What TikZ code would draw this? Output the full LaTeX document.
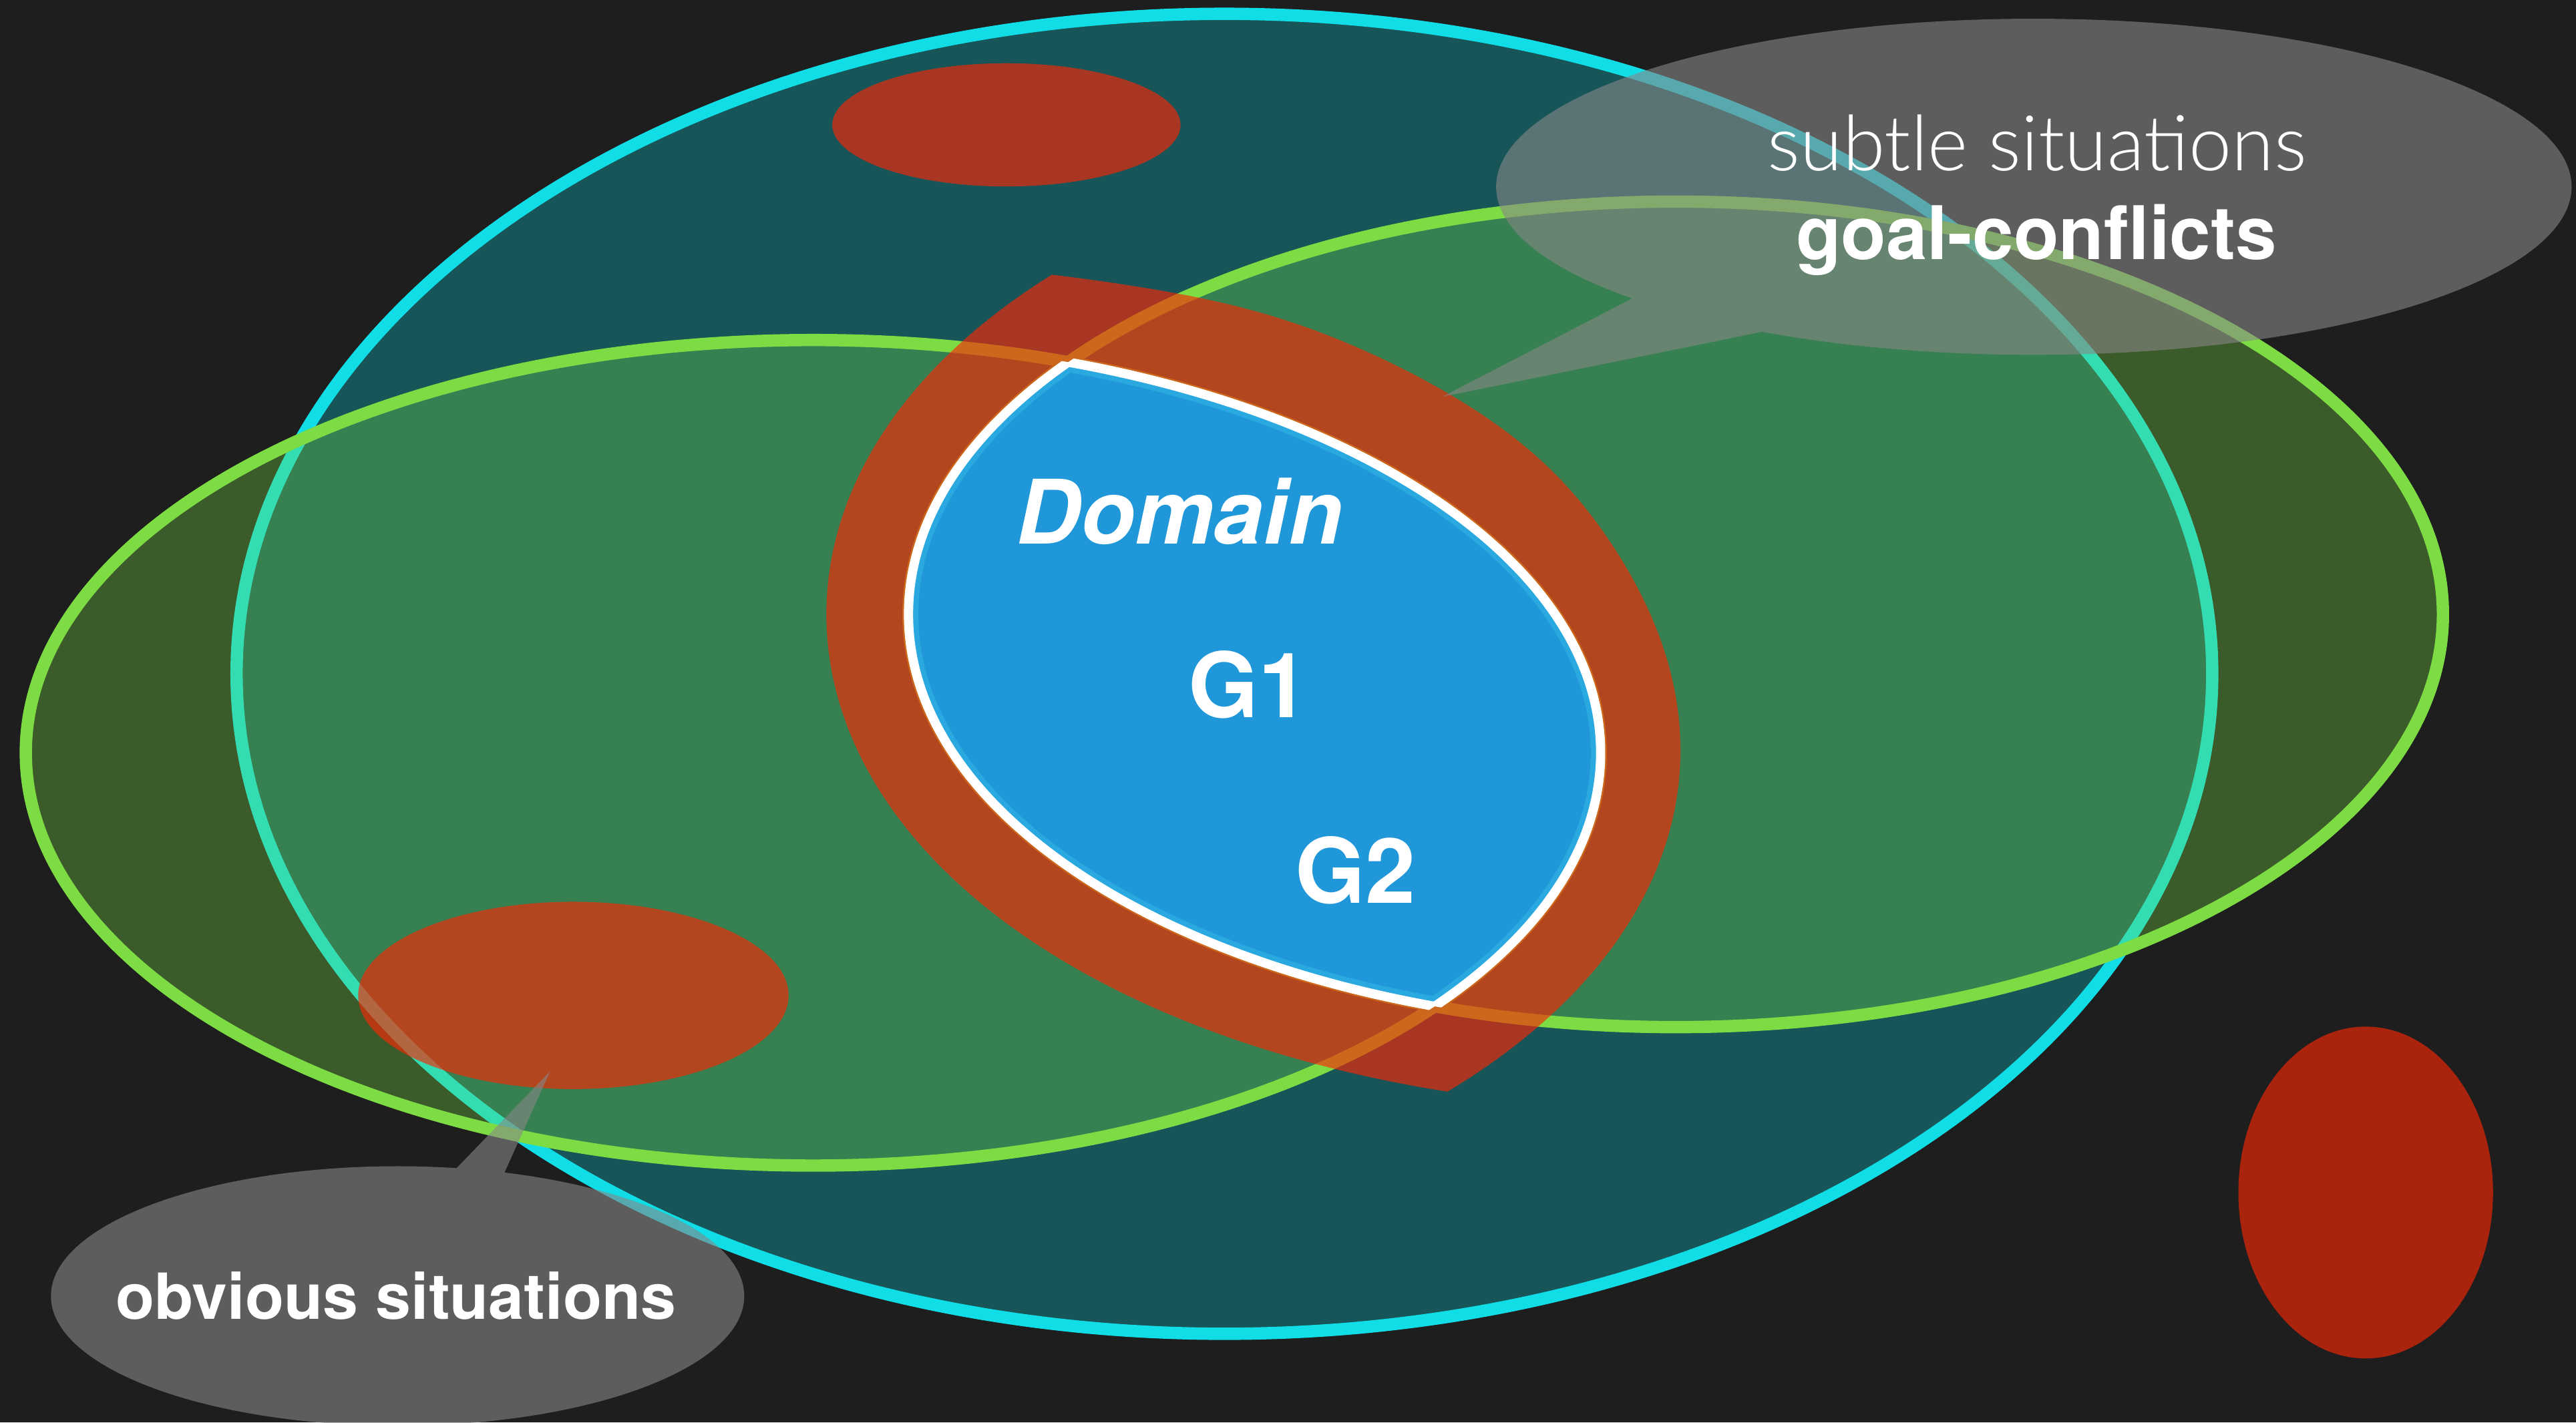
\documentclass[tikz,border=0pt]{standalone}
\usepackage{fontspec}
\setmainfont{TeX Gyre Heros}
% thin face for the upper caption
\IfFontExistsTF{Lato Light}
  {\newfontfamily\thinfont{Lato Light}}
  {\IfFontExistsTF{FiraSans-Light.otf}
     {\newfontfamily\thinfont{FiraSans-Light.otf}}
     {\newfontfamily\thinfont{TeX Gyre Heros}}}

\definecolor{board}{RGB}{30,30,30}
\definecolor{cyanline}{RGB}{16,221,230}
\definecolor{cyanfill}{RGB}{10,215,225}
\definecolor{greenline}{RGB}{125,220,68}
\definecolor{redfill}{RGB}{250,38,4}
\definecolor{domainblue}{RGB}{32,151,216}
\definecolor{domainband}{RGB}{42,168,224}
\definecolor{bubble}{RGB}{135,135,135}

\begin{document}
\begin{tikzpicture}[x=0.01cm, y=-0.01cm,
  space/.style={draw=cyanline, line width=0.75mm, fill=cyanfill, fill opacity=0.3},
  field/.style={draw=greenline, line width=0.75mm, fill=greenline, fill opacity=0.32},
  hot/.style={fill=redfill, fill opacity=0.64},
  bubblefill/.style={fill=bubble, fill opacity=0.6},
  edge/.style={draw=white, line width=0.56mm},
  lbl/.style={text=white, inner sep=0pt, anchor=base},
  % offset widths and normal lengths for the band around the domain
  declare function={
    dl(\t)=48+11/(1+((\t+45)/22)*((\t+45)/22)*((\t+45)/22)*((\t+45)/22));
    nl(\t)=sqrt(cos(\t)*cos(\t)+3.6378*sin(\t)*sin(\t));
    nr(\t)=sqrt(cos(\t)*cos(\t)+3.4533*sin(\t)*sin(\t));
  }]

% chalkboard
\path[use as bounding box] (0,0) rectangle (1568,866);
\fill[board] (0,0) rectangle (1568,866);
\clip (0,0) rectangle (1568,866);

% outer situation space
\path[space] (745.3,410.2) ellipse [x radius=601.3, y radius=401.8];

% two goal fields
\path[field] (495,458.3) ellipse [x radius=479.3, y radius=251.3];
\path[field] (1020,374) ellipse [x radius=467, y radius=251.3];

% red spots
\fill[hot] (612.6,76) ellipse [x radius=106, y radius=37.5];
\fill[hot] (349,606) ellipse [x radius=131, y radius=57];
\fill[hot] (1440,726) ellipse [x radius=77.5, y radius=101];

% red band: overlap of the two goal fields, each widened outward
\begin{scope}
  \clip plot[domain=-180:177, samples=120, smooth cycle, variable=\t]
    ({1020+(467+50/nr(\t))*cos(\t)}, {374+(251.3+92.915/nr(\t))*sin(\t)});
  \fill[hot] plot[domain=-180:177, samples=120, smooth cycle, variable=\t]
    ({495+(479.3+dl(\t)/nl(\t))*cos(\t)}, {458.3+(251.3+1.9073*dl(\t)/nl(\t))*sin(\t)});
\end{scope}

% domain: overlap of the two goal fields
\begin{scope}
  \clip (1020,374) ellipse [x radius=467, y radius=251.3];
  \fill[domainblue] (495,458.3) ellipse [x radius=479.3, y radius=251.3];
  \clip (495,458.3) ellipse [x radius=479.3, y radius=251.3];
  \draw[domainband, line width=1.2mm]
    (495,458.3) ellipse [x radius=479.3, y radius=251.3]
    (1020,374) ellipse [x radius=467, y radius=251.3];
\end{scope}
\begin{scope}
  \clip (1020,374) ellipse [x radius=467, y radius=251.3];
  \path[edge] (495,458.3) ellipse [x radius=479.3, y radius=251.3];
\end{scope}
\begin{scope}
  \clip (495,458.3) ellipse [x radius=479.3, y radius=251.3];
  \path[edge] (1020,374) ellipse [x radius=467, y radius=251.3];
\end{scope}

% speech bubbles
\fill[bubblefill] (1238,113.7) ellipse [x radius=327.3, y radius=102.3]
  (1010.3,173) -- (1089.9,198.5) -- (878,241.5) -- cycle;
\fill[bubblefill] (242,789) ellipse [x radius=211, y radius=79]
  (269.5,719.9) -- (335,652) -- (302.8,723.3) -- cycle;

% labels
\node[lbl, font=\thinfont\fontsize{13.3}{15}\selectfont] (subtle) at (1240,104) {subtle situations};
\node[lbl, font=\bfseries\fontsize{12.8}{15}\selectfont] (goal) at (1239.5,158) {goal-conflicts};
\node[lbl, font=\bfseries\fontsize{11}{13}\selectfont] (obvious) at (241,803) {obvious situations};
\node[lbl, font=\bfseries\itshape\fontsize{15.4}{18}\selectfont] (domain) at (718,331) {Domain};
\node[lbl, font=\bfseries\fontsize{15.6}{18}\selectfont] (g1) at (760,437) {G1};
\node[lbl, font=\bfseries\fontsize{15.6}{18}\selectfont] (g2) at (825,550) {G2};
\end{tikzpicture}
\end{document}
